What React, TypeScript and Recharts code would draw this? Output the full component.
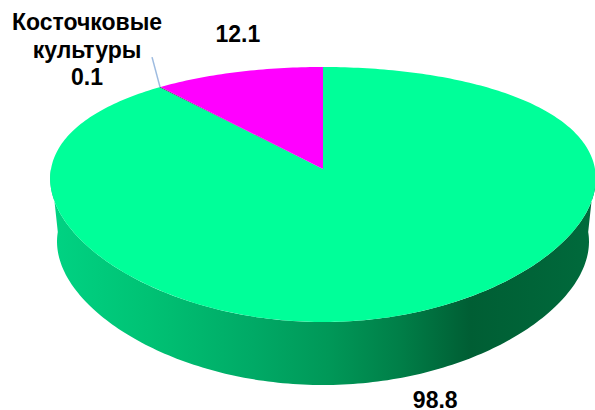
import React from 'react';
import { PieChart, Pie, Cell } from 'recharts';

// ---- data ----
const categories = ['Семечковые культуры', 'Косточковые культуры', 'Ягодные культуры'];
const values = [98.8, 0.1, 12.1];
const showName = [false, true, false];
const colors = ['#00FF99', '#3C3C5A', '#FF00FF'];

const data = categories.map((name, i) => ({ name, value: values[i] }));

// ---- geometry / style ----
const W = 595;
const H = 410;
const CX = 323;
const CY = 169;
const R = 272;
const RY_RATIO = 0.45;
const KX = 0.077;
const KY = 0.2;
const DEPTH = 63;
const BOTTOM_SCALE = 0.975;
const FONT = '"Liberation Sans", Arial, sans-serif';
const FONT_SIZE = 23;
// label offsets relative to the slice's rim point at mid angle: [dx, dy of first baseline]
const LABEL_OFFSETS = [
  [13, 97],
  [-73, -57],
  [0, -30],
];
const LEADER_END = [-8, -30];
const LINE_HEIGHT = 27.5;

function project(cx: number, cy: number, r: number, deg: number, bottom = false): [number, number] {
  const a = (deg * Math.PI) / 180;
  const s = Math.sin(a);
  const c = Math.cos(a);
  let x = (r * c) / (1 + KX * s);
  let y = (-r * RY_RATIO * s) / (1 + KY * s);
  if (bottom) {
    x *= BOTTOM_SCALE;
    y += DEPTH;
  }
  return [cx + x, cy + y];
}

function arcPoints(cx: number, cy: number, r: number, a0: number, a1: number, bottom = false) {
  const n = Math.max(2, Math.ceil(Math.abs(a1 - a0)));
  const pts: [number, number][] = [];
  for (let i = 0; i <= n; i++) pts.push(project(cx, cy, r, a0 + ((a1 - a0) * i) / n, bottom));
  return pts;
}

const fmt = (p: [number, number]) => `${p[0].toFixed(2)},${p[1].toFixed(2)}`;

const TopShape = (props: any) => {
  const { cx, cy, outerRadius, startAngle, endAngle, fill } = props;
  const lo = Math.min(startAngle, endAngle);
  const hi = Math.max(startAngle, endAngle);
  const pts = arcPoints(cx, cy, outerRadius, lo, hi);
  const d = `M${cx},${cy} L` + pts.map(fmt).join(' L') + ' Z';
  return <path d={d} fill={fill} stroke="none" />;
};

const WallShape = (props: any) => {
  const { cx, cy, outerRadius, startAngle, endAngle } = props;
  const lo = Math.min(startAngle, endAngle);
  const hi = Math.max(startAngle, endAngle);
  const paths: string[] = [];
  for (const base of [-360, 0, 360]) {
    const a = Math.max(lo, base - 180);
    const b = Math.min(hi, base);
    if (b > a) {
      const top = arcPoints(cx, cy, outerRadius, a, b);
      const bot = arcPoints(cx, cy, outerRadius, b, a, true);
      paths.push('M' + top.map(fmt).join(' L') + ' L' + bot.map(fmt).join(' L') + ' Z');
    }
  }
  if (!paths.length) return <g />;
  return (
    <g>
      <defs>
        <linearGradient id="wallGrad" gradientUnits="userSpaceOnUse" x1={cx - outerRadius} y1={0} x2={cx + outerRadius} y2={0}>
          <stop offset="0" stopColor="#00D383" />
          <stop offset="0.18" stopColor="#00C274" />
          <stop offset="0.37" stopColor="#00AA66" />
          <stop offset="0.51" stopColor="#009858" />
          <stop offset="0.64" stopColor="#007F48" />
          <stop offset="0.77" stopColor="#005E34" />
          <stop offset="0.94" stopColor="#00673A" />
          <stop offset="1" stopColor="#006B3C" />
        </linearGradient>
      </defs>
      {paths.map((d, i) => (
        <path key={i} d={d} fill="url(#wallGrad)" stroke="none" />
      ))}
    </g>
  );
};

const renderLabel = (props: any) => {
  const { cx, cy, outerRadius, midAngle, index, value, name } = props;
  const p = project(cx, cy, outerRadius, midAngle);
  const [dx, dy] = LABEL_OFFSETS[index];
  const tx = p[0] + dx;
  const ty = p[1] + dy;
  const lines: string[] = showName[index] ? [...String(name).split(' '), String(value)] : [String(value)];
  return (
    <g>
      {showName[index] && (
        <line x1={p[0]} y1={p[1]} x2={p[0] + LEADER_END[0]} y2={p[1] + LEADER_END[1]} stroke="#9DBBE0" strokeWidth={1.5} />
      )}
      <text
        x={tx}
        y={ty}
        textAnchor="middle"
        fontFamily={FONT}
        fontWeight="bold"
        fontSize={FONT_SIZE}
        fill="#000"
      >
        {lines.map((t, i) => (
          <tspan key={i} x={tx} y={ty + i * LINE_HEIGHT}>
            {t}
          </tspan>
        ))}
      </text>
    </g>
  );
};

export default function App() {
  return (
    <div style={{ position: 'absolute', left: 0, top: 0, width: W, height: H, background: '#fff' }}>
      <PieChart width={W} height={H} margin={{ top: 0, right: 0, bottom: 0, left: 0 }}>
        <Pie
          data={data}
          dataKey="value"
          nameKey="name"
          cx={CX}
          cy={CY}
          outerRadius={R}
          startAngle={90}
          endAngle={-270}
          stroke="none"
          fill="#009858"
          isAnimationActive={false}
          shape={WallShape}
          inactiveShape={WallShape}
          activeShape={WallShape}
          labelLine={false}
          label={false}
        />
        <Pie
          data={data}
          dataKey="value"
          nameKey="name"
          cx={CX}
          cy={CY}
          outerRadius={R}
          startAngle={90}
          endAngle={-270}
          stroke="none"
          isAnimationActive={false}
          shape={TopShape}
          inactiveShape={TopShape}
          activeShape={TopShape}
          labelLine={false}
          label={renderLabel}
        >
          {data.map((d, i) => (
            <Cell key={d.name} fill={colors[i]} />
          ))}
        </Pie>
      </PieChart>
    </div>
  );
}
